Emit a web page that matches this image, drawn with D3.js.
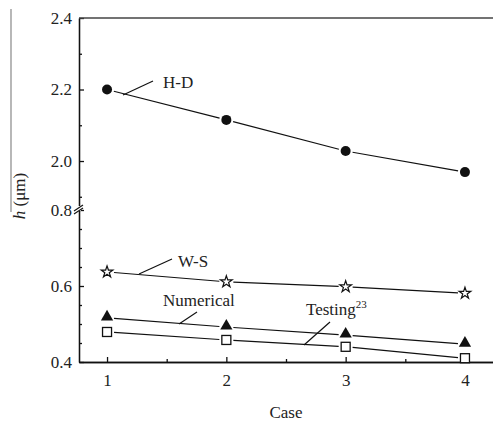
<!DOCTYPE html>
<html>
<head>
<meta charset="utf-8">
<script src="https://cdn.jsdelivr.net/npm/d3@7"></script>
<style>
  body { margin: 0; background: #fff; }
  svg text { font-family: "Liberation Serif", "Tinos", "DejaVu Serif", serif; }
</style>
</head>
<body>
<svg></svg>
<script>
let cases = [1, 2, 3, 4]
let hdValues = [2.200, 2.115, 2.028, 1.969]
let wsValues = [0.637, 0.611, 0.598, 0.581]
let numValues = [0.516, 0.492, 0.471, 0.447]
let testValues = [0.479, 0.458, 0.440, 0.410]

let upperMajor = [2.0, 2.2, 2.4]
let upperMinor = [1.9, 2.1, 2.3]
let lowerMajor = [0.4, 0.6, 0.8]
let lowerMinor = [0.45, 0.5, 0.55, 0.65, 0.7, 0.75]
let xMinor = [1.5, 2.5, 3.5]

let width = 493
let height = 424
let plotLeft = 79
let plotRight = 493
let plotTop = 18
let plotBottom = 362
let breakY = 210
let serif = "'Liberation Serif', 'DejaVu Serif', serif"

let svg = d3.select("svg").attr("width", width).attr("height", height).style("display", "block")

// stray line from the crop at the far left
svg.append("line")
    .attr("x1", 11).attr("x2", 11).attr("y1", 9).attr("y2", 212)
    .attr("stroke", "#888").attr("stroke-width", 1.2)

let xScale = d3.scaleLinear().domain([0.765, 4.235]).range([plotLeft, plotRight])
let yLow = d3.scaleLinear().domain([0.4, 0.8]).range([plotBottom, breakY])
let yHigh = d3.scaleLinear().domain([1.863, 2.4]).range([breakY, plotTop])

let styleAxis = (g) => {
    g.attr("font-family", serif)
    g.selectAll("path, line").attr("stroke", "#111").attr("stroke-width", 1.3)
    g.selectAll("text").attr("font-size", 17).attr("fill", "#222").style("font-family", serif)
}

// left axis, upper part
svg.append("g")
    .attr("transform", "translate(" + plotLeft + ",0)")
    .call(d3.axisLeft(yHigh).tickValues(upperMajor).tickSize(-5).tickSizeOuter(0)
        .tickPadding(7).tickFormat(d3.format(".1f")))
    .call(styleAxis)
svg.append("g")
    .attr("transform", "translate(" + plotLeft + ",0)")
    .call(d3.axisLeft(yHigh).tickValues(upperMinor).tickSize(-3).tickSizeOuter(0).tickFormat(""))
    .call(styleAxis)

// left axis, lower part
svg.append("g")
    .attr("transform", "translate(" + plotLeft + ",0)")
    .call(d3.axisLeft(yLow).tickValues(lowerMajor).tickSize(-5).tickSizeOuter(0)
        .tickPadding(7).tickFormat(d3.format(".1f")))
    .call(styleAxis)
svg.append("g")
    .attr("transform", "translate(" + plotLeft + ",0)")
    .call(d3.axisLeft(yLow).tickValues(lowerMinor).tickSize(-3).tickSizeOuter(0).tickFormat(""))
    .call(styleAxis)

// bottom axis
svg.append("g")
    .attr("transform", "translate(0," + plotBottom + ")")
    .call(d3.axisBottom(xScale).tickValues(cases).tickSize(-5).tickSizeOuter(0)
        .tickPadding(12).tickFormat(d3.format("d")))
    .call(styleAxis)
svg.append("g")
    .attr("transform", "translate(0," + plotBottom + ")")
    .call(d3.axisBottom(xScale).tickValues(xMinor).tickSize(-3).tickSizeOuter(0).tickFormat(""))
    .call(styleAxis)

// top border
svg.append("line")
    .attr("x1", plotLeft).attr("x2", plotRight).attr("y1", plotTop).attr("y2", plotTop)
    .attr("stroke", "#444").attr("stroke-width", 1.5)

// axis break mark
svg.append("rect").attr("x", plotLeft - 2).attr("y", breakY - 4).attr("width", 4).attr("height", 5).attr("fill", "#fff")
svg.append("line").attr("x1", plotLeft - 5).attr("y1", breakY + 1).attr("x2", plotLeft + 4).attr("y2", breakY - 5)
    .attr("stroke", "#111").attr("stroke-width", 1.2)
svg.append("line").attr("x1", plotLeft - 5).attr("y1", breakY + 4).attr("x2", plotLeft + 4).attr("y2", breakY - 2)
    .attr("stroke", "#111").attr("stroke-width", 1.2)

// connecting lines with gaps near the markers
let drawSeries = (values, yScale) => {
    let pts = values.map((v, i) => [xScale(cases[i]), yScale(v)])
    let gap = 7
    for (let i = 0; i < pts.length - 1; i++) {
        let [x1, y1] = pts[i]
        let [x2, y2] = pts[i + 1]
        let len = Math.hypot(x2 - x1, y2 - y1)
        let ux = (x2 - x1) / len, uy = (y2 - y1) / len
        svg.append("line")
            .attr("x1", x1 + ux * gap).attr("y1", y1 + uy * gap)
            .attr("x2", x2 - ux * gap).attr("y2", y2 - uy * gap)
            .attr("stroke", "#111").attr("stroke-width", 1.2)
    }
    return pts
}

let hdPts = drawSeries(hdValues, yHigh)
let wsPts = drawSeries(wsValues, yLow)
let numPts = drawSeries(numValues, yLow)
let testPts = drawSeries(testValues, yLow)

svg.selectAll(".hd").data(hdPts).enter().append("circle")
    .attr("cx", d => d[0]).attr("cy", d => d[1]).attr("r", 5).attr("fill", "#111")

let star = d3.symbol().type(d3.symbolStar).size(42)
svg.selectAll(".ws").data(wsPts).enter().append("path")
    .attr("d", star).attr("transform", d => "translate(" + d[0] + "," + d[1] + ")")
    .attr("fill", "#fff").attr("stroke", "#111").attr("stroke-width", 1.2)

let tri = d3.symbol().type(d3.symbolTriangle).size(65)
svg.selectAll(".num").data(numPts).enter().append("path")
    .attr("d", tri).attr("transform", d => "translate(" + d[0] + "," + (d[1] - 1) + ")")
    .attr("fill", "#111")

svg.selectAll(".test").data(testPts).enter().append("rect")
    .attr("x", d => d[0] - 4.5).attr("y", d => d[1] - 4.5).attr("width", 9).attr("height", 9)
    .attr("fill", "#fff").attr("stroke", "#111").attr("stroke-width", 1.3)

// series labels with leader lines
let labels = [
    { text: "H-D", x: 163, y: 88, lx1: 123, ly1: 95, lx2: 153, ly2: 81 },
    { text: "W-S", x: 178, y: 267, lx1: 139, ly1: 274, lx2: 172, ly2: 259 },
    { text: "Numerical", x: 163, y: 306, lx1: 179, ly1: 324, lx2: 197, ly2: 312 },
    { text: "Testing", x: 306, y: 315, lx1: 304, ly1: 345, lx2: 330, ly2: 322 }
]
labels.forEach((l) => {
    svg.append("line")
        .attr("x1", l.lx1).attr("y1", l.ly1).attr("x2", l.lx2).attr("y2", l.ly2)
        .attr("stroke", "#111").attr("stroke-width", 1.2)
    let t = svg.append("text")
        .attr("x", l.x).attr("y", l.y).attr("font-size", 17).attr("fill", "#222")
        .style("font-family", serif)
        .text(l.text)
    if (l.text == "Testing") {
        t.append("tspan").attr("font-size", 11).attr("dy", -7).text("23")
    }
})

// axis titles
svg.append("text")
    .attr("x", xScale.range()[0] + (xScale.range()[1] - xScale.range()[0]) / 2)
    .attr("y", 418).attr("text-anchor", "middle").attr("font-size", 17).attr("fill", "#222")
    .style("font-family", serif)
    .text("Case")

let yTitle = svg.append("text")
    .attr("transform", "translate(25,196) rotate(-90)")
    .attr("text-anchor", "middle").attr("font-size", 17).attr("fill", "#222")
    .style("font-family", serif)
yTitle.append("tspan").attr("font-style", "italic").text("h")
yTitle.append("tspan").text(" (μm)")
</script>
</body>
</html>
